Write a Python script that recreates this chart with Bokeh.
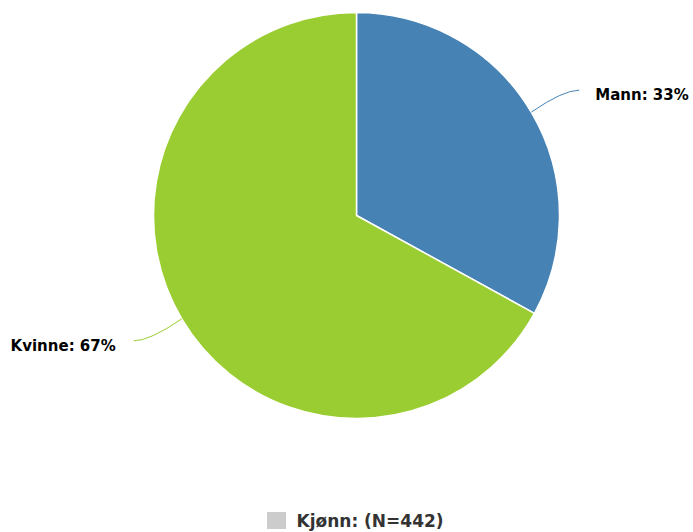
import numpy as np
from bokeh.plotting import figure
from bokeh.models import Range1d, ColumnDataSource
from bokeh.core.properties import value
from bokeh.embed import file_html
from bokeh.resources import INLINE

categories = ["Mann", "Kvinne"]
percentages = [33, 67]
colors = ["#4682B4", "#9ACD32"]
legend_label = "Kjønn: (N=442)"

W, H = 693, 532
cx, cy, r = 356, H - 215, 203

frac = np.array(percentages, dtype=float) / sum(percentages)
cum = np.cumsum(frac)
prev = np.concatenate([[0.0], cum[:-1]])
end_angles = np.pi / 2 - 2 * np.pi * prev
start_angles = np.pi / 2 - 2 * np.pi * cum

p = figure(width=W, height=H, x_range=Range1d(0, W), y_range=Range1d(0, H),
           output_backend="svg", toolbar_location=None, min_border=0,
           x_axis_location=None, y_axis_location=None)
p.grid.visible = False
p.outline_line_color = None

src = ColumnDataSource(dict(start=start_angles, end=end_angles, color=colors))
p.wedge(x=cx, y=cy, radius=r, start_angle="start", end_angle="end",
        fill_color="color", line_color="white", line_width=1.5, source=src)

for cat, pct, col, a0, a1 in zip(categories, percentages, colors, start_angles, end_angles):
    mid = (a0 + a1) / 2
    ex, ey = cx + r * np.cos(mid), cy + r * np.sin(mid)
    side = 1 if np.cos(mid) >= 0 else -1
    vs = 1 if np.sin(mid) >= 0 else -1
    tx, ty = ex + side * 48, ey + vs * 22
    kx, ky = tx - side * 16, ty
    p.quadratic(x0=[ex], y0=[ey], x1=[tx], y1=[ty], cx=[kx], cy=[ky],
                line_color=col, line_width=1)
    p.text(x=[tx + side * (16 if side > 0 else 18)], y=[ty - 5], text=[f"{cat}: {pct}%"],
           text_align="left" if side > 0 else "right", text_baseline="middle",
           text_font=value("DejaVu Sans"), text_font_style="bold",
           text_font_size="15px", text_color="#000000")

# legend
p.rect(x=[276], y=[H - 520], width=19, height=17, width_units="screen",
       height_units="screen", fill_color="#cccccc", line_color=None)
p.text(x=[296], y=[H - 520], text=[legend_label], text_align="left",
       text_baseline="middle", text_font=value("DejaVu Sans"),
       text_font_style="bold", text_font_size="17px", text_color="#333333")

open("out.html", "w").write(file_html(p, INLINE))
